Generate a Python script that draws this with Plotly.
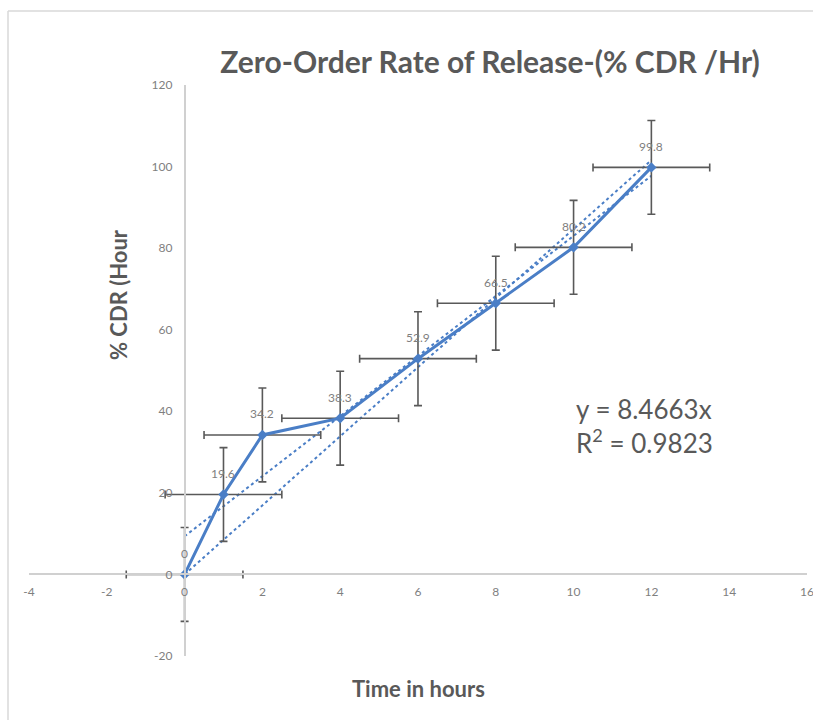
import numpy as np
import plotly.graph_objects as go

# ---- data ----
time_h = [0, 1, 2, 4, 6, 8, 10, 12]
cdr_pct = [0, 19.6, 34.2, 38.3, 52.9, 66.5, 80.2, 99.8]
x_err = [1.5] * 8
y_err = [11.5] * 8
x_ticks = [-4, -2, 0, 2, 4, 6, 8, 10, 12, 14, 16]
y_ticks = [-20, 0, 20, 40, 60, 80, 100, 120]
title_text = "Zero-Order Rate of Release-(% CDR /Hr)"
x_title = "Time in hours"
y_title = "% CDR (Hour"
eq_text = "y = 8.4663x"
r2_text = "R<sup>2</sup> = 0.9823"

BLUE = "#4a7ec6"
GRAY = "#595959"
TICK = "#7f7f7f"
AXIS = "#d0d0d0"

xa = np.array(time_h, dtype=float)
ya = np.array(cdr_pct, dtype=float)
# linear trendline with intercept
m1, b1 = np.polyfit(xa, ya, 1)
# trendline through origin
m0 = float((xa * ya).sum() / (xa * xa).sum())
xt = np.array([xa.min(), xa.max()])

fig = go.Figure()
fig.add_trace(go.Scatter(x=xt, y=m1 * xt + b1, mode="lines",
                         line=dict(color=BLUE, width=2, dash="dot"),
                         hoverinfo="skip", showlegend=False))
fig.add_trace(go.Scatter(x=xt, y=m0 * xt, mode="lines",
                         line=dict(color=BLUE, width=2, dash="dot"),
                         hoverinfo="skip", showlegend=False))
fig.add_trace(go.Scatter(
    x=time_h, y=cdr_pct, mode="lines+markers",
    line=dict(color=BLUE, width=3),
    marker=dict(symbol="diamond", size=8, color=BLUE),
    error_x=dict(type="data", array=x_err, color=GRAY, thickness=1.6, width=4),
    error_y=dict(type="data", array=y_err, color=GRAY, thickness=1.6, width=4),
    showlegend=False))

annotations = []
for xv, yv in zip(time_h, cdr_pct):
    annotations.append(dict(x=xv, y=yv, xref="x", yref="y", text=f"{yv:g}",
                            showarrow=False, yshift=21,
                            font=dict(family="Lato", size=12, color=TICK)))

annotations.append(dict(x=10.0, y=36.5, xref="x", yref="y",
                        text=eq_text + "<br>" + r2_text, align="left",
                        xanchor="left", yanchor="middle", showarrow=False,
                        font=dict(family="Lato", size=26, color=GRAY)))
annotations.append(dict(x=(418 - 29) / 778, y=(656 - 688) / 571, xref="paper", yref="paper",
                        text=x_title, showarrow=False, xanchor="center", yanchor="middle",
                        font=dict(family="Lato", size=22, color=GRAY, weight="bold")))
annotations.append(dict(x=(118 - 29) / 778, y=(656 - 295) / 571, xref="paper", yref="paper",
                        text=y_title, showarrow=False, textangle=-90,
                        xanchor="center", yanchor="middle",
                        font=dict(family="Lato", size=22, color=GRAY, weight="bold")))

shapes = [
    dict(type="line", xref="paper", yref="paper",
         x0=(8 - 29) / 778, x1=(813 - 29) / 778, y0=(656 - 11) / 571, y1=(656 - 11) / 571,
         line=dict(color="#d9d9d9", width=1.5)),
    dict(type="line", xref="paper", yref="paper",
         x0=(8 - 29) / 778, x1=(8 - 29) / 778, y0=(656 - 11) / 571, y1=(656 - 720) / 571,
         line=dict(color="#d9d9d9", width=1.5)),
]

fig.update_layout(
    width=813, height=720,
    margin=dict(l=29, r=6, t=85, b=64),
    paper_bgcolor="white", plot_bgcolor="white",
    title=dict(text=title_text, x=490 / 813, xanchor="center", y=1 - 62 / 720, yanchor="middle",
               font=dict(family="Lato", size=30, color=GRAY, weight="bold")),
    xaxis=dict(range=[-4, 16.001], tickvals=x_ticks, ticktext=[str(v) for v in x_ticks],
               anchor="free", position=20 / 140, showline=True, linecolor=AXIS, linewidth=1.5,
               showgrid=False, zeroline=False, ticks="", ticklabelstandoff=6,
               ticklabeloverflow="allow",
               tickfont=dict(family="Lato", size=12, color=TICK), automargin=False),
    yaxis=dict(range=[-20, 120], tickvals=y_ticks, ticktext=[str(v) for v in y_ticks],
               anchor="free", position=4 / 20, showline=True, linecolor=AXIS, linewidth=1.5,
               showgrid=False, zeroline=False, ticks="", ticklabelstandoff=9,
               ticklabeloverflow="allow",
               tickfont=dict(family="Lato", size=12, color=TICK), automargin=False),
    annotations=annotations, shapes=shapes,
)

fig.write_html("out.html")
